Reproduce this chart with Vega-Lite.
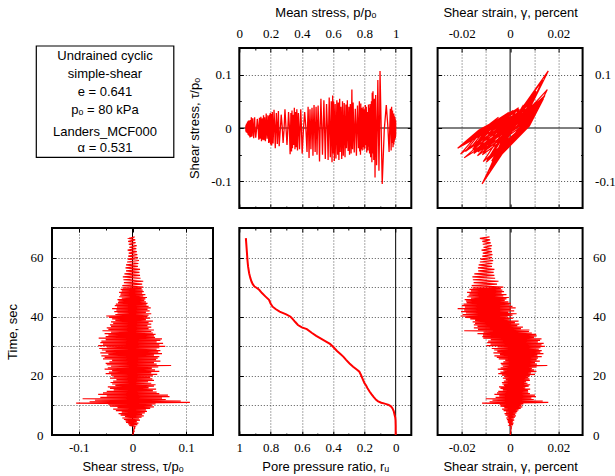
{
"$schema": "https://vega.github.io/schema/vega-lite/v6.json",
"padding": {"left": 5, "top": 5, "right": 0, "bottom": 0},
"config": {
 "view": {"stroke": "black", "strokeWidth": 2},
 "axis": {"domain": false, "labelFont": "Liberation Serif", "labelFontSize": 13, "labelColor": "black", "labelFlush": false, "labelOverlap": false, "titleFont": "Liberation Sans", "titleFontSize": 13, "titleFontWeight": "normal", "titleColor": "black", "tickColor": "black", "tickWidth": 1, "gridColor": "#555555", "gridDash": [1, 2], "gridWidth": 1}
},
"datasets": {
 "cyc": [
{"t":0,"s":0,"g":0,"p":1},{"t":0.25,"s":0.001,"g":0.0001,"p":1},{"t":0.5,"s":0.001,"g":0.0002,"p":1},{"t":0.75,"s":0.002,"g":0.0002,"p":1},{"t":1,"s":0.001,"g":0.0002,"p":1},{"t":1.25,"s":0.003,"g":0.0003,"p":1},{"t":1.5,"s":0.002,"g":0.0003,"p":1},{"t":1.75,"s":0.003,"g":0.0004,"p":1},{"t":2,"s":0.002,"g":0.0003,"p":1},{"t":2.25,"s":0.004,"g":0.0005,"p":1},{"t":2.5,"s":0.003,"g":0.0004,"p":1},{"t":2.75,"s":0.005,"g":0.0006,"p":1},{"t":3,"s":0.002,"g":0.0003,"p":1},
{"t":3.25,"s":-0.006,"g":-0.0003,"p":1},{"t":3.5,"s":0.009,"g":0.0012,"p":1},{"t":3.75,"s":-0.008,"g":-0.0005,"p":1},{"t":4,"s":0.011,"g":0.0014,"p":1},{"t":4.25,"s":-0.012,"g":-0.0009,"p":1},{"t":4.5,"s":0.008,"g":0.0011,"p":1},{"t":4.75,"s":-0.013,"g":-0.001,"p":1},{"t":5,"s":0.014,"g":0.0017,"p":1},
{"t":5.25,"s":-0.016,"g":-0.0013,"p":0.999},{"t":5.5,"s":0.012,"g":0.0015,"p":0.999},{"t":5.75,"s":-0.019,"g":-0.0016,"p":0.998},{"t":6,"s":0.017,"g":0.002,"p":0.997},{"t":6.25,"s":-0.014,"g":-0.0011,"p":0.996},{"t":6.5,"s":0.021,"g":0.0024,"p":0.995},{"t":6.75,"s":-0.022,"g":-0.0019,"p":0.994},{"t":7,"s":0.018,"g":0.0021,"p":0.992},{"t":7.25,"s":-0.026,"g":-0.0023,"p":0.991},{"t":7.5,"s":0.023,"g":0.0026,"p":0.99},{"t":7.75,"s":-0.02,"g":-0.0017,"p":0.989},{"t":8,"s":0.027,"g":0.003,"p":0.988},
{"t":8.25,"s":-0.031,"g":-0.0027,"p":0.988},{"t":8.5,"s":0.025,"g":0.0035,"p":0.986},{"t":8.75,"s":-0.036,"g":-0.0033,"p":0.983},{"t":9,"s":0.033,"g":0.0044,"p":0.98},{"t":9.25,"s":-0.028,"g":-0.0024,"p":0.977},{"t":9.5,"s":0.04,"g":0.0051,"p":0.974},{"t":9.75,"s":-0.042,"g":-0.004,"p":0.971},{"t":10,"s":0.036,"g":0.0047,"p":0.966},{"t":10.25,"s":-0.045,"g":-0.0043,"p":0.958},{"t":10.5,"s":0.043,"g":0.0055,"p":0.94},
{"t":10.75,"s":-0.105,"g":-0.0116,"p":0.914},{"t":11,"s":0.107,"g":0.0158,"p":0.9},{"t":11.25,"s":-0.08,"g":-0.0085,"p":0.893},{"t":11.5,"s":0.09,"g":0.0135,"p":0.886},{"t":11.75,"s":-0.07,"g":-0.0073,"p":0.878},
{"t":12,"s":0.062,"g":0.0098,"p":0.872},{"t":12.25,"s":-0.093,"g":-0.0101,"p":0.868},{"t":12.5,"s":0.055,"g":0.0088,"p":0.864},{"t":12.75,"s":-0.06,"g":-0.006,"p":0.86},{"t":13,"s":0.069,"g":0.0107,"p":0.855},{"t":13.25,"s":-0.048,"g":-0.0045,"p":0.853},{"t":13.5,"s":0.066,"g":0.0103,"p":0.85},{"t":13.75,"s":-0.064,"g":-0.0065,"p":0.848},{"t":14,"s":0.05,"g":0.0082,"p":0.845},{"t":14.25,"s":-0.055,"g":-0.0054,"p":0.84},{"t":14.5,"s":0.045,"g":0.0075,"p":0.836},
{"t":14.75,"s":-0.048,"g":-0.0049,"p":0.833},{"t":15,"s":0.038,"g":0.0074,"p":0.83},{"t":15.25,"s":-0.035,"g":-0.003,"p":0.828},{"t":15.5,"s":0.044,"g":0.0083,"p":0.826},{"t":15.75,"s":-0.042,"g":-0.004,"p":0.823},{"t":16,"s":0.03,"g":0.0063,"p":0.818},{"t":16.25,"s":-0.046,"g":-0.0046,"p":0.815},{"t":16.5,"s":0.04,"g":0.0077,"p":0.812},{"t":16.75,"s":-0.032,"g":-0.0026,"p":0.809},{"t":17,"s":0.043,"g":0.0083,"p":0.806},{"t":17.25,"s":-0.038,"g":-0.0032,"p":0.803},{"t":17.5,"s":0.035,"g":0.0072,"p":0.8},{"t":17.75,"s":-0.041,"g":-0.0034,"p":0.798},{"t":18,"s":0.029,"g":0.0066,"p":0.796},{"t":18.25,"s":-0.036,"g":-0.0026,"p":0.794},{"t":18.5,"s":0.04,"g":0.0082,"p":0.792},{"t":18.75,"s":-0.03,"g":-0.0018,"p":0.79},{"t":19,"s":0.037,"g":0.008,"p":0.788},{"t":19.25,"s":-0.042,"g":-0.003,"p":0.786},{"t":19.5,"s":0.033,"g":0.0075,"p":0.785},{"t":19.75,"s":-0.035,"g":-0.0022,"p":0.783},{"t":20,"s":0.038,"g":0.0082,"p":0.781},
{"t":20.25,"s":-0.04,"g":-0.0034,"p":0.779},{"t":20.5,"s":0.046,"g":0.0103,"p":0.777},{"t":20.75,"s":-0.05,"g":-0.0049,"p":0.775},{"t":21,"s":0.035,"g":0.0086,"p":0.772},{"t":21.25,"s":-0.044,"g":-0.004,"p":0.77},{"t":21.5,"s":0.05,"g":0.0109,"p":0.768},{"t":21.75,"s":-0.038,"g":-0.0028,"p":0.762},{"t":22,"s":0.042,"g":0.0099,"p":0.756},{"t":22.25,"s":-0.052,"g":-0.0051,"p":0.749},{"t":22.5,"s":0.036,"g":0.009,"p":0.742},{"t":22.75,"s":-0.046,"g":-0.0039,"p":0.735},{"t":23,"s":0.048,"g":0.011,"p":0.728},{"t":23.25,"s":-0.04,"g":-0.003,"p":0.724},{"t":23.5,"s":0.072,"g":0.0154,"p":0.72},{"t":23.75,"s":-0.048,"g":-0.0036,"p":0.715},{"t":24,"s":0.045,"g":0.0111,"p":0.71},{"t":24.25,"s":-0.05,"g":-0.0039,"p":0.705},{"t":24.5,"s":0.04,"g":0.0103,"p":0.701},{"t":24.75,"s":-0.043,"g":-0.0028,"p":0.696},{"t":25,"s":0.052,"g":0.0123,"p":0.691},{"t":25.25,"s":-0.038,"g":-0.002,"p":0.685},{"t":25.5,"s":0.044,"g":0.011,"p":0.682},{"t":25.75,"s":-0.055,"g":-0.0047,"p":0.676},{"t":26,"s":0.047,"g":0.0115,"p":0.671},
{"t":26.25,"s":-0.052,"g":-0.0055,"p":0.665},{"t":26.5,"s":0.05,"g":0.0131,"p":0.66},{"t":26.75,"s":-0.058,"g":-0.0065,"p":0.655},{"t":27,"s":0.04,"g":0.0113,"p":0.65},{"t":27.25,"s":-0.045,"g":-0.0042,"p":0.645},{"t":27.5,"s":0.055,"g":0.0138,"p":0.642},{"t":27.75,"s":-0.06,"g":-0.0069,"p":0.637},{"t":28,"s":0.048,"g":0.0125,"p":0.633},{"t":28.25,"s":-0.05,"g":-0.0053,"p":0.629},{"t":28.5,"s":0.052,"g":0.0131,"p":0.624},{"t":28.75,"s":-0.057,"g":-0.0066,"p":0.618},{"t":29,"s":0.045,"g":0.0119,"p":0.613},{"t":29.25,"s":-0.062,"g":-0.0076,"p":0.608},{"t":29.5,"s":0.05,"g":0.0126,"p":0.603},{"t":29.75,"s":-0.048,"g":-0.0052,"p":0.599},{"t":30,"s":0.061,"g":0.0144,"p":0.597},
{"t":30.25,"s":-0.064,"g":-0.0098,"p":0.593},{"t":30.5,"s":0.05,"g":0.013,"p":0.588},{"t":30.75,"s":-0.055,"g":-0.0081,"p":0.582},{"t":31,"s":0.057,"g":0.0139,"p":0.575},{"t":31.25,"s":-0.06,"g":-0.0095,"p":0.568},{"t":31.5,"s":0.045,"g":0.0115,"p":0.558},{"t":31.75,"s":-0.058,"g":-0.0091,"p":0.55},{"t":32,"s":0.052,"g":0.0124,"p":0.541},{"t":32.25,"s":-0.05,"g":-0.008,"p":0.532},{"t":32.5,"s":0.055,"g":0.013,"p":0.522},{"t":32.75,"s":-0.063,"g":-0.0111,"p":0.513},{"t":33,"s":0.042,"g":0.0099,"p":0.504},
{"t":33.25,"s":-0.05,"g":-0.0115,"p":0.497},{"t":33.5,"s":0.04,"g":0.011,"p":0.491},{"t":33.75,"s":-0.045,"g":-0.0112,"p":0.485},{"t":34,"s":0.043,"g":0.0108,"p":0.478},{"t":34.25,"s":-0.052,"g":-0.0135,"p":0.471},{"t":34.5,"s":0.038,"g":0.009,"p":0.465},{"t":34.75,"s":-0.04,"g":-0.011,"p":0.458},{"t":35,"s":0.035,"g":0.0078,"p":0.452},{"t":35.25,"s":-0.056,"g":-0.019,"p":0.446},{"t":35.5,"s":0.04,"g":0.008,"p":0.44},{"t":35.75,"s":-0.045,"g":-0.0133,"p":0.433},{"t":36,"s":0.03,"g":0.0045,"p":0.418},{"t":36.25,"s":-0.048,"g":-0.015,"p":0.402},{"t":36.5,"s":0.035,"g":0.0053,"p":0.393},{"t":36.75,"s":-0.04,"g":-0.0135,"p":0.385},{"t":37,"s":0.028,"g":0.003,"p":0.378},
{"t":37.25,"s":-0.042,"g":-0.015,"p":0.372},{"t":37.5,"s":0.035,"g":0.0038,"p":0.368},{"t":37.75,"s":-0.036,"g":-0.0145,"p":0.364},{"t":38,"s":0.03,"g":0.002,"p":0.36},{"t":38.25,"s":-0.04,"g":-0.0155,"p":0.356},{"t":38.5,"s":0.038,"g":0.0035,"p":0.352},{"t":38.75,"s":-0.032,"g":-0.0145,"p":0.348},{"t":39,"s":0.025,"g":-0.0003,"p":0.344},{"t":39.25,"s":-0.038,"g":-0.0165,"p":0.34},{"t":39.5,"s":0.033,"g":0.0013,"p":0.337},{"t":39.75,"s":-0.044,"g":-0.0185,"p":0.334},{"t":40,"s":0.028,"g":-0.001,"p":0.33},
{"t":40.25,"s":-0.049,"g":-0.0205,"p":0.325},{"t":40.5,"s":0.03,"g":0.001,"p":0.315},{"t":40.75,"s":-0.032,"g":-0.0197,"p":0.305},{"t":41,"s":0.035,"g":0.0027,"p":0.292},{"t":41.25,"s":-0.028,"g":-0.0183,"p":0.28},{"t":41.5,"s":0.025,"g":-0.0007,"p":0.268},{"t":41.75,"s":-0.034,"g":-0.0203,"p":0.255},{"t":42,"s":0.032,"g":0.0017,"p":0.25},{"t":42.25,"s":-0.03,"g":-0.019,"p":0.243},{"t":42.5,"s":0.028,"g":0.0003,"p":0.237},{"t":42.75,"s":-0.038,"g":-0.0217,"p":0.23},{"t":43,"s":0.034,"g":0.0023,"p":0.222},{"t":43.25,"s":-0.029,"g":-0.0187,"p":0.216},{"t":43.5,"s":0.03,"g":0.001,"p":0.211},{"t":43.75,"s":-0.033,"g":-0.02,"p":0.207},{"t":44,"s":0.026,"g":-0.0003,"p":0.204},{"t":44.25,"s":-0.031,"g":-0.0193,"p":0.2},{"t":44.5,"s":0.028,"g":0.0003,"p":0.198},{"t":44.75,"s":-0.027,"g":-0.018,"p":0.196},{"t":45,"s":0.025,"g":-0.0007,"p":0.194},
{"t":45.25,"s":-0.026,"g":-0.0182,"p":0.192},{"t":45.5,"s":0.022,"g":-0.0022,"p":0.19},{"t":45.75,"s":-0.028,"g":-0.0188,"p":0.188},{"t":46,"s":0.024,"g":-0.0015,"p":0.183},{"t":46.25,"s":-0.02,"g":-0.0162,"p":0.178},{"t":46.5,"s":0.027,"g":-0.0005,"p":0.172},{"t":46.75,"s":-0.025,"g":-0.0178,"p":0.167},{"t":47,"s":0.02,"g":-0.0028,"p":0.162},{"t":47.25,"s":-0.023,"g":-0.0172,"p":0.158},{"t":47.5,"s":0.024,"g":-0.0015,"p":0.155},{"t":47.75,"s":-0.022,"g":-0.0168,"p":0.15},{"t":48,"s":0.018,"g":-0.0035,"p":0.146},{"t":48.25,"s":-0.025,"g":-0.0178,"p":0.142},{"t":48.5,"s":0.021,"g":-0.0025,"p":0.138},{"t":48.75,"s":-0.02,"g":-0.0162,"p":0.133},{"t":49,"s":0.019,"g":-0.0032,"p":0.129},{"t":49.25,"s":-0.022,"g":-0.0168,"p":0.125},{"t":49.5,"s":0.017,"g":-0.0038,"p":0.115},{"t":49.75,"s":-0.018,"g":-0.0155,"p":0.105},{"t":50,"s":0.02,"g":-0.0028,"p":0.098},
{"t":50.5,"s":-0.019,"g":-0.0159,"p":0.092},{"t":51,"s":0.018,"g":-0.0054,"p":0.086},{"t":51.5,"s":-0.016,"g":-0.0151,"p":0.081},{"t":52,"s":0.02,"g":-0.0048,"p":0.077},{"t":52.5,"s":-0.017,"g":-0.0154,"p":0.074},{"t":53,"s":0.015,"g":-0.0062,"p":0.071},{"t":53.5,"s":-0.018,"g":-0.0156,"p":0.068},{"t":54,"s":0.014,"g":-0.0065,"p":0.065},{"t":54.5,"s":-0.015,"g":-0.0148,"p":0.063},{"t":55,"s":0.013,"g":-0.0068,"p":0.062},{"t":55.5,"s":-0.012,"g":-0.0132,"p":0.06},{"t":56,"s":0.014,"g":-0.0065,"p":0.059},{"t":56.5,"s":-0.013,"g":-0.0133,"p":0.058},{"t":57,"s":0.01,"g":-0.0075,"p":0.057},{"t":57.5,"s":-0.012,"g":-0.013,"p":0.056},{"t":58,"s":0.011,"g":-0.0073,"p":0.055},{"t":58.5,"s":-0.01,"g":-0.0125,"p":0.054},{"t":59,"s":0.012,"g":-0.007,"p":0.053},{"t":59.5,"s":-0.009,"g":-0.0123,"p":0.052},{"t":60,"s":0.01,"g":-0.0075,"p":0.051},{"t":60.5,"s":-0.008,"g":-0.0115,"p":0.05},{"t":61,"s":0.009,"g":-0.0073,"p":0.05},{"t":61.5,"s":-0.007,"g":-0.0113,"p":0.049},{"t":62,"s":0.008,"g":-0.0075,"p":0.048},{"t":62.5,"s":-0.009,"g":-0.0118,"p":0.048},{"t":63,"s":0.007,"g":-0.0078,"p":0.047},{"t":63.5,"s":-0.006,"g":-0.011,"p":0.046},{"t":64,"s":0.008,"g":-0.0075,"p":0.046},{"t":64.5,"s":-0.007,"g":-0.0113,"p":0.045},{"t":65,"s":0.006,"g":-0.008,"p":0.045},{"t":65.5,"s":-0.008,"g":-0.0115,"p":0.044},{"t":66,"s":0.005,"g":-0.0083,"p":0.043},{"t":66.5,"s":-0.006,"g":-0.0125,"p":0.042},{"t":67,"s":0.004,"g":-0.0085,"p":0.042},
{"t":8.375,"s":0.003,"g":0.0019,"p":0.987},{"t":8.625,"s":-0.003,"g":-0.0005,"p":0.985},{"t":8.875,"s":0.003,"g":0.0019,"p":0.982},{"t":9.125,"s":-0.003,"g":-0.0005,"p":0.979},{"t":9.375,"s":0.003,"g":0.0019,"p":0.976},{"t":9.625,"s":-0.003,"g":-0.0005,"p":0.973},{"t":9.875,"s":0.003,"g":0.0019,"p":0.969},{"t":10.125,"s":-0.003,"g":-0.0005,"p":0.962},{"t":10.375,"s":0.003,"g":0.0019,"p":0.95},{"t":10.625,"s":-0.004,"g":-0.0008,"p":0.927},
{"t":10.875,"s":0.004,"g":0.0045,"p":0.907},{"t":11.125,"s":-0.004,"g":-0.0015,"p":0.897},{"t":11.375,"s":0.004,"g":0.0045,"p":0.89},{"t":11.625,"s":-0.004,"g":-0.0015,"p":0.882},{"t":11.875,"s":0.004,"g":0.0045,"p":0.875},{"t":12.125,"s":-0.004,"g":-0.0015,"p":0.87},{"t":12.375,"s":0.004,"g":0.0045,"p":0.866},{"t":12.625,"s":-0.004,"g":-0.0015,"p":0.862},{"t":12.875,"s":0.004,"g":0.0045,"p":0.857},{"t":13.125,"s":-0.004,"g":-0.0015,"p":0.854},{"t":13.375,"s":0.004,"g":0.0045,"p":0.852},{"t":13.625,"s":-0.004,"g":-0.0015,"p":0.849},{"t":13.875,"s":0.004,"g":0.0045,"p":0.847},{"t":14.125,"s":-0.004,"g":-0.0015,"p":0.843},{"t":14.375,"s":0.004,"g":0.0045,"p":0.838},{"t":14.625,"s":-0.004,"g":-0.001,"p":0.835},
{"t":14.875,"s":0.004,"g":0.005,"p":0.832},{"t":15.125,"s":-0.004,"g":-0.001,"p":0.829},{"t":15.375,"s":0.004,"g":0.005,"p":0.827},{"t":15.625,"s":-0.004,"g":-0.001,"p":0.825},{"t":15.875,"s":0.004,"g":0.005,"p":0.82},{"t":16.125,"s":-0.004,"g":-0.001,"p":0.817},{"t":16.375,"s":0.004,"g":0.005,"p":0.814},{"t":16.625,"s":-0.004,"g":-0.001,"p":0.81},{"t":16.875,"s":0.004,"g":0.0052,"p":0.808},
{"t":17.125,"s":-0.004,"g":-0.0005,"p":0.805},{"t":17.375,"s":0.004,"g":0.0055,"p":0.802},{"t":17.625,"s":-0.004,"g":-0.0005,"p":0.799},{"t":17.875,"s":0.004,"g":0.0055,"p":0.797},{"t":18.125,"s":-0.004,"g":-0.0005,"p":0.795},{"t":18.375,"s":0.004,"g":0.0055,"p":0.793},{"t":18.625,"s":-0.004,"g":-0.0005,"p":0.791},{"t":18.875,"s":0.004,"g":0.0055,"p":0.789},{"t":19.125,"s":-0.004,"g":-0.0005,"p":0.787},{"t":19.375,"s":0.004,"g":0.0058,"p":0.786},{"t":19.625,"s":-0.004,"g":-0.0002,"p":0.784},{"t":19.875,"s":0.004,"g":0.0058,"p":0.782},
{"t":20.125,"s":-0.004,"g":-0.001,"p":0.78},{"t":20.375,"s":0.004,"g":0.007,"p":0.778},{"t":20.625,"s":-0.004,"g":-0.001,"p":0.776},{"t":20.875,"s":0.004,"g":0.007,"p":0.774},{"t":21.125,"s":-0.004,"g":-0.001,"p":0.771},{"t":21.375,"s":0.004,"g":0.0072,"p":0.769},{"t":21.625,"s":-0.004,"g":-0.0008,"p":0.765},{"t":21.875,"s":0.004,"g":0.0072,"p":0.759},{"t":22.125,"s":-0.004,"g":-0.0008,"p":0.752},{"t":22.375,"s":0.004,"g":0.0074,"p":0.745},{"t":22.625,"s":-0.004,"g":-0.0006,"p":0.738},{"t":22.875,"s":0.004,"g":0.0074,"p":0.731},{"t":23.125,"s":-0.004,"g":-0.0006,"p":0.726},{"t":23.375,"s":0.004,"g":0.008,"p":0.722},
{"t":23.625,"s":-0.004,"g":0,"p":0.717},{"t":23.875,"s":0.004,"g":0.008,"p":0.712},{"t":24.125,"s":-0.004,"g":0,"p":0.707},{"t":24.375,"s":0.004,"g":0.008,"p":0.703},{"t":24.625,"s":-0.004,"g":0,"p":0.698},{"t":24.875,"s":0.004,"g":0.008,"p":0.693},{"t":25.125,"s":-0.004,"g":0,"p":0.688},{"t":25.375,"s":0.004,"g":0.008,"p":0.683},{"t":25.625,"s":-0.004,"g":0,"p":0.679},{"t":25.875,"s":0.004,"g":0.008,"p":0.673},{"t":26.125,"s":-0.004,"g":0,"p":0.668},{"t":26.375,"s":0.004,"g":0.008,"p":0.662},{"t":26.625,"s":-0.004,"g":0,"p":0.657},{"t":26.875,"s":0.004,"g":0.008,"p":0.652},{"t":27.125,"s":-0.004,"g":0,"p":0.647},{"t":27.375,"s":0.004,"g":0.008,"p":0.643},
{"t":27.625,"s":-0.004,"g":-0.0002,"p":0.639},{"t":27.875,"s":0.004,"g":0.0078,"p":0.635},{"t":28.125,"s":-0.004,"g":-0.0002,"p":0.631},{"t":28.375,"s":0.004,"g":0.0078,"p":0.626},{"t":28.625,"s":-0.004,"g":-0.0003,"p":0.621},{"t":28.875,"s":0.004,"g":0.0075,"p":0.615},{"t":29.125,"s":-0.004,"g":-0.0005,"p":0.61},{"t":29.375,"s":0.004,"g":0.0075,"p":0.605},{"t":29.625,"s":-0.004,"g":-0.0005,"p":0.601},{"t":29.875,"s":0.004,"g":0.0073,"p":0.598},
{"t":30.125,"s":-0.004,"g":-0.001,"p":0.595},{"t":30.375,"s":0.004,"g":0.0068,"p":0.59},{"t":30.625,"s":-0.004,"g":-0.0012,"p":0.585},{"t":30.875,"s":0.004,"g":0.0065,"p":0.578},{"t":31.125,"s":-0.004,"g":-0.0015,"p":0.571},{"t":31.375,"s":0.004,"g":0.006,"p":0.563},{"t":31.625,"s":-0.004,"g":-0.002,"p":0.554},{"t":31.875,"s":0.004,"g":0.006,"p":0.545},{"t":32.125,"s":-0.004,"g":-0.002,"p":0.536},{"t":32.375,"s":0.004,"g":0.0058,"p":0.527},{"t":32.625,"s":-0.004,"g":-0.0025,"p":0.517},{"t":32.875,"s":0.004,"g":0.0055,"p":0.508},
{"t":33.125,"s":-0.004,"g":-0.003,"p":0.5},{"t":33.375,"s":0.004,"g":0.005,"p":0.494},{"t":33.625,"s":-0.004,"g":-0.0035,"p":0.488},{"t":33.875,"s":0.004,"g":0.004,"p":0.481},{"t":34.125,"s":-0.004,"g":-0.004,"p":0.474},{"t":34.375,"s":0.004,"g":0.0035,"p":0.468},{"t":34.625,"s":-0.004,"g":-0.005,"p":0.461},{"t":34.875,"s":0.004,"g":0.003,"p":0.455},{"t":35.125,"s":-0.004,"g":-0.006,"p":0.449},{"t":35.375,"s":0.004,"g":0.002,"p":0.443},{"t":35.625,"s":-0.004,"g":-0.006,"p":0.436},{"t":35.875,"s":0.004,"g":0.001,"p":0.425},{"t":36.125,"s":-0.004,"g":-0.007,"p":0.41},{"t":36.375,"s":0.004,"g":0.0005,"p":0.397},{"t":36.625,"s":-0.004,"g":-0.0075,"p":0.389},{"t":36.875,"s":0.004,"g":0,"p":0.381},
{"t":37.125,"s":-0.004,"g":-0.0085,"p":0.375},{"t":37.375,"s":0.004,"g":-0.0005,"p":0.37},{"t":37.625,"s":-0.004,"g":-0.009,"p":0.366},{"t":37.875,"s":0.004,"g":-0.0015,"p":0.362},{"t":38.125,"s":-0.004,"g":-0.0095,"p":0.358},{"t":38.375,"s":0.004,"g":-0.002,"p":0.354},{"t":38.625,"s":-0.004,"g":-0.01,"p":0.35},{"t":38.875,"s":0.004,"g":-0.0025,"p":0.346},{"t":39.125,"s":-0.004,"g":-0.0105,"p":0.342},{"t":39.375,"s":0.004,"g":-0.003,"p":0.338},{"t":39.625,"s":-0.004,"g":-0.0115,"p":0.335},{"t":39.875,"s":0.004,"g":-0.0035,"p":0.332},{"t":40.125,"s":-0.004,"g":-0.012,"p":0.328},
{"t":40.375,"s":0.004,"g":-0.005,"p":0.32},{"t":40.625,"s":-0.004,"g":-0.013,"p":0.31},{"t":40.875,"s":0.004,"g":-0.005,"p":0.298},{"t":41.125,"s":-0.004,"g":-0.013,"p":0.286},{"t":41.375,"s":0.004,"g":-0.005,"p":0.274},{"t":41.625,"s":-0.004,"g":-0.013,"p":0.262},{"t":41.875,"s":0.004,"g":-0.005,"p":0.252},{"t":42.125,"s":-0.004,"g":-0.013,"p":0.246},{"t":42.375,"s":0.004,"g":-0.005,"p":0.24},{"t":42.625,"s":-0.004,"g":-0.013,"p":0.233},{"t":42.875,"s":0.004,"g":-0.005,"p":0.226},{"t":43.125,"s":-0.004,"g":-0.013,"p":0.219},{"t":43.375,"s":0.004,"g":-0.005,"p":0.213},{"t":43.625,"s":-0.004,"g":-0.013,"p":0.209},{"t":43.875,"s":0.004,"g":-0.005,"p":0.205},{"t":44.125,"s":-0.004,"g":-0.013,"p":0.202},{"t":44.375,"s":0.004,"g":-0.005,"p":0.199},{"t":44.625,"s":-0.004,"g":-0.013,"p":0.197},{"t":44.875,"s":0.004,"g":-0.005,"p":0.195},{"t":45.125,"s":-0.004,"g":-0.0125,"p":0.193},
{"t":45.375,"s":0.003,"g":-0.0065,"p":0.191},{"t":45.625,"s":-0.003,"g":-0.0125,"p":0.189},{"t":45.875,"s":0.003,"g":-0.0065,"p":0.186},{"t":46.125,"s":-0.003,"g":-0.0125,"p":0.18},{"t":46.375,"s":0.003,"g":-0.0065,"p":0.175},{"t":46.625,"s":-0.003,"g":-0.0125,"p":0.17},{"t":46.875,"s":0.003,"g":-0.0065,"p":0.165},{"t":47.125,"s":-0.003,"g":-0.0125,"p":0.16},{"t":47.375,"s":0.003,"g":-0.0065,"p":0.157},{"t":47.625,"s":-0.003,"g":-0.0125,"p":0.152},{"t":47.875,"s":0.003,"g":-0.0065,"p":0.148},{"t":48.125,"s":-0.003,"g":-0.0125,"p":0.144},{"t":48.375,"s":0.003,"g":-0.0065,"p":0.14},{"t":48.625,"s":-0.003,"g":-0.0125,"p":0.135},{"t":48.875,"s":0.003,"g":-0.0065,"p":0.131},{"t":49.125,"s":-0.003,"g":-0.0125,"p":0.127},{"t":49.375,"s":0.003,"g":-0.0065,"p":0.12},{"t":49.625,"s":-0.003,"g":-0.0125,"p":0.11},{"t":49.875,"s":0.003,"g":-0.0065,"p":0.1}
 ],
 "ru": [
{"t":0,"ru":0},{"t":3,"ru":0},{"t":5,"ru":0.001},{"t":6,"ru":0.003},{"t":7,"ru":0.008},{"t":8,"ru":0.012},{"t":9,"ru":0.02},{"t":9.7,"ru":0.03},{"t":10.2,"ru":0.045},{"t":10.6,"ru":0.07},{"t":10.9,"ru":0.092},{"t":11.4,"ru":0.112},{"t":11.9,"ru":0.125},{"t":12.8,"ru":0.14},{"t":13.8,"ru":0.155},{"t":14.7,"ru":0.167},{"t":15.8,"ru":0.18},{"t":16.8,"ru":0.19},{"t":17.6,"ru":0.2},{"t":18.8,"ru":0.21},{"t":20.2,"ru":0.221},{"t":21.4,"ru":0.232},{"t":22,"ru":0.245},{"t":23.1,"ru":0.272},{"t":24.2,"ru":0.295},{"t":25.4,"ru":0.317},{"t":26.5,"ru":0.335},{"t":27.5,"ru":0.355},{"t":28.4,"ru":0.375},{"t":29.9,"ru":0.402},{"t":30.8,"ru":0.42},{"t":31.6,"ru":0.445},{"t":32.5,"ru":0.475},{"t":33.5,"ru":0.508},{"t":34.5,"ru":0.535},{"t":35.8,"ru":0.568},{"t":36.4,"ru":0.6},{"t":37.2,"ru":0.625},{"t":38.2,"ru":0.642},{"t":39.2,"ru":0.658},{"t":40,"ru":0.672},{"t":40.8,"ru":0.7},{"t":41.7,"ru":0.742},{"t":42.6,"ru":0.768},{"t":43.4,"ru":0.787},{"t":44.5,"ru":0.8},{"t":45.7,"ru":0.81},{"t":46.8,"ru":0.832},{"t":48,"ru":0.855},{"t":49.1,"ru":0.873},{"t":49.8,"ru":0.89},{"t":50.2,"ru":0.903},{"t":51,"ru":0.914},{"t":51.9,"ru":0.922},{"t":53.2,"ru":0.93},{"t":54.7,"ru":0.937},{"t":57,"ru":0.944},{"t":59.2,"ru":0.948},{"t":61.5,"ru":0.951},{"t":63.7,"ru":0.954},{"t":66.6,"ru":0.958}
 ]
},
"columns": 3,
"bounds": "flush",
"align": "each",
"spacing": {"row": 20, "column": 26.3},
"concat": [
  {"width": 161, "height": 160, "view": {"stroke": null}, "data": {"values": [{}]},
   "layer": [
    {"mark": {"type": "rect", "fill": "white", "stroke": "black", "strokeWidth": 1.2},
     "encoding": {"x": {"datum": -0.0975, "type": "quantitative", "scale": {"domain": [0, 1], "nice": false, "zero": false}, "axis": null}, "x2": {"datum": 0.7565},
      "y": {"datum": 1.0125, "type": "quantitative", "scale": {"domain": [0, 1], "nice": false, "zero": false}, "axis": null}, "y2": {"datum": 0.317}}},
    {"mark": {"type": "text", "text": ["Undrained cyclic", "simple-shear", "e = 0.641", "pₒ = 80 kPa"], "font": "Liberation Sans", "fontSize": 13, "lineHeight": 18, "align": "center", "baseline": "middle", "color": "black"},
     "encoding": {"x": {"datum": 0.329, "type": "quantitative"}, "y": {"datum": 0.953, "type": "quantitative"}}},
    {"mark": {"type": "text", "text": ["Landers_MCF000", "α = 0.531"], "font": "Liberation Sans", "fontSize": 13, "lineHeight": 15.6, "align": "center", "baseline": "middle", "color": "black"},
     "encoding": {"x": {"datum": 0.329, "type": "quantitative"}, "y": {"datum": 0.474, "type": "quantitative"}}}
   ]},
  {"width": 172, "height": 160, "data": {"name": "cyc"},
   "resolve": {"axis": {"x": "independent", "y": "independent"}},
   "layer": [
    {"data": {"values": [{}]}, "mark": {"type": "rule", "color": "black", "strokeWidth": 1}, "encoding": {"y": {"datum": 0, "type": "quantitative", "axis": null}}},
    {"mark": {"type": "line", "color": "#ff0000", "strokeWidth": 1.3, "clip": true},
     "encoding": {
      "x": {"field": "p", "type": "quantitative", "scale": {"domain": [0, 1.1], "nice": false, "zero": false},
       "axis": {"orient": "top", "title": "Mean stress, p/pₒ", "values": [0,0.1,0.2,0.3,0.4,0.5,0.6,0.7,0.8,0.9,1], "grid": true,
        "gridOpacity": {"condition": {"test": "round(datum.value*10)%2==0 && datum.value>0.05", "value": 1}, "value": 0},
        "tickSize": {"condition": {"test": "round(datum.value*10)%2==0", "value": -4}, "value": -2},
        "labelExpr": "round(datum.value*10)%2==0 ? format(datum.value,'~g') : ''", "labelPadding": 12, "titlePadding": 6}},
      "y": {"field": "s", "type": "quantitative", "scale": {"domain": [-0.15, 0.15], "nice": false, "zero": false},
       "axis": {"orient": "left", "title": "Shear stress, τ/pₒ", "values": [-0.1,-0.05,0,0.05,0.1], "grid": true,
        "gridOpacity": {"condition": {"test": "abs(datum.value)>0.09", "value": 1}, "value": 0},
        "tickSize": {"condition": {"test": "abs(datum.value)<0.001 || abs(datum.value)>0.09", "value": -4}, "value": -2},
        "labelExpr": "abs(datum.value)<0.001 || abs(datum.value)>0.09 ? (datum.value<0 ? '-' + format(-datum.value,'~g') : format(datum.value,'~g')) : ''", "labelPadding": 12, "titlePadding": 9}},
      "order": {"field": "t", "type": "quantitative"}}},
    {"mark": {"type": "point", "opacity": 0},
     "encoding": {
      "x": {"field": "p", "type": "quantitative", "axis": {"orient": "bottom", "title": null, "labels": false, "grid": false, "values": [0,0.1,0.2,0.3,0.4,0.5,0.6,0.7,0.8,0.9,1],
        "tickSize": {"condition": {"test": "round(datum.value*10)%2==0", "value": -4}, "value": -2}}},
      "y": {"field": "s", "type": "quantitative", "axis": {"orient": "right", "title": null, "labels": false, "grid": false, "values": [-0.1,-0.05,0,0.05,0.1],
        "tickSize": {"condition": {"test": "abs(datum.value)<0.001 || abs(datum.value)>0.09", "value": -4}, "value": -2}}}}}
   ]},
  {"width": 145, "height": 160, "data": {"name": "cyc"},
   "resolve": {"axis": {"x": "independent", "y": "independent"}},
   "layer": [
    {"data": {"values": [{}]}, "mark": {"type": "rule", "color": "black", "strokeWidth": 1}, "encoding": {"y": {"datum": 0, "type": "quantitative", "axis": null}}},
    {"data": {"values": [{}]}, "mark": {"type": "rule", "color": "black", "strokeWidth": 1}, "encoding": {"x": {"datum": 0, "type": "quantitative", "axis": null}}},
    {"mark": {"type": "line", "color": "#ff0000", "strokeWidth": 1.2, "clip": true},
     "encoding": {
      "x": {"field": "g", "type": "quantitative", "scale": {"domain": [-0.03, 0.03], "nice": false, "zero": false},
       "axis": {"orient": "top", "title": "Shear strain, γ, percent", "values": [-0.02,-0.01,0,0.01,0.02], "grid": true,
        "gridOpacity": {"condition": {"test": "abs(datum.value)>0.001", "value": 1}, "value": 0},
        "tickSize": {"condition": {"test": "abs(datum.value)<0.001 || abs(datum.value)>0.015", "value": -4}, "value": -2},
        "labelExpr": "abs(datum.value)<0.001 || abs(datum.value)>0.015 ? (datum.value<0 ? '-' + format(-datum.value,'~g') : format(datum.value,'~g')) : ''", "labelPadding": 12, "titlePadding": 6}},
      "y": {"field": "s", "type": "quantitative", "scale": {"domain": [-0.15, 0.15], "nice": false, "zero": false},
       "axis": {"orient": "right", "title": null, "values": [-0.1,-0.05,0,0.05,0.1], "grid": true,
        "gridOpacity": {"condition": {"test": "abs(datum.value)>0.09", "value": 1}, "value": 0},
        "tickSize": {"condition": {"test": "abs(datum.value)<0.001 || abs(datum.value)>0.09", "value": -4}, "value": -2},
        "labelExpr": "abs(datum.value)<0.001 || abs(datum.value)>0.09 ? (datum.value<0 ? '-' + format(-datum.value,'~g') : format(datum.value,'~g')) : ''", "labelPadding": 16}},
      "order": {"field": "t", "type": "quantitative"}}},
    {"mark": {"type": "point", "opacity": 0},
     "encoding": {
      "x": {"field": "g", "type": "quantitative", "axis": {"orient": "bottom", "title": null, "labels": false, "grid": false, "values": [-0.02,-0.01,0,0.01,0.02],
        "tickSize": {"condition": {"test": "abs(datum.value)<0.001 || abs(datum.value)>0.015", "value": -4}, "value": -2}}},
      "y": {"field": "s", "type": "quantitative", "axis": {"orient": "left", "title": null, "labels": false, "grid": false, "values": [-0.1,-0.05,0,0.05,0.1],
        "tickSize": {"condition": {"test": "abs(datum.value)<0.001 || abs(datum.value)>0.09", "value": -4}, "value": -2}}}}}
   ]},
  {"width": 161, "height": 207, "data": {"name": "cyc"},
   "resolve": {"axis": {"x": "independent", "y": "independent"}},
   "layer": [
    {"data": {"values": [{}]}, "mark": {"type": "rule", "color": "black", "strokeWidth": 1}, "encoding": {"x": {"datum": 0, "type": "quantitative", "axis": null}}},
    {"mark": {"type": "line", "color": "#ff0000", "strokeWidth": 1.2, "clip": true},
     "encoding": {
      "x": {"field": "s", "type": "quantitative", "scale": {"domain": [-0.15, 0.15], "nice": false, "zero": false},
       "axis": {"orient": "bottom", "title": "Shear stress, τ/pₒ", "values": [-0.1,-0.05,0,0.05,0.1], "grid": true,
        "gridOpacity": {"condition": {"test": "abs(datum.value)>0.09", "value": 1}, "value": 0},
        "tickSize": {"condition": {"test": "abs(datum.value)<0.001 || abs(datum.value)>0.09", "value": -4}, "value": -2},
        "labelExpr": "abs(datum.value)<0.001 || abs(datum.value)>0.09 ? (datum.value<0 ? '-' + format(-datum.value,'~g') : format(datum.value,'~g')) : ''", "labelPadding": 10, "titlePadding": 4}},
      "y": {"field": "t", "type": "quantitative", "scale": {"domain": [0, 70], "nice": false, "zero": false},
       "axis": {"orient": "left", "title": "Time, sec", "values": [0,10,20,30,40,50,60], "grid": true,
        "gridOpacity": {"condition": {"test": "datum.value>0", "value": 1}, "value": 0},
        "tickSize": {"condition": {"test": "datum.value%20==0", "value": -4}, "value": -2},
        "labelExpr": "datum.value%20==0 ? format(datum.value,'~g') : ''", "labelPadding": 13, "titlePadding": 11}},
      "order": {"field": "t", "type": "quantitative"}}},
    {"mark": {"type": "point", "opacity": 0},
     "encoding": {
      "x": {"field": "s", "type": "quantitative", "axis": {"orient": "top", "title": null, "labels": false, "grid": false, "values": [-0.1,-0.05,0,0.05,0.1],
        "tickSize": {"condition": {"test": "abs(datum.value)<0.001 || abs(datum.value)>0.09", "value": -4}, "value": -2}}},
      "y": {"field": "t", "type": "quantitative", "axis": {"orient": "right", "title": null, "labels": false, "grid": false, "values": [0,10,20,30,40,50,60],
        "tickSize": {"condition": {"test": "datum.value%20==0", "value": -4}, "value": -2}}}}}
   ]},
  {"width": 172, "height": 207, "data": {"name": "ru"},
   "resolve": {"axis": {"x": "independent", "y": "independent"}},
   "layer": [
    {"data": {"values": [{}]}, "mark": {"type": "rule", "color": "black", "strokeWidth": 1}, "encoding": {"x": {"datum": 0, "type": "quantitative", "axis": null}}},
    {"mark": {"type": "line", "color": "#ff0000", "strokeWidth": 2, "clip": true},
     "encoding": {
      "x": {"field": "ru", "type": "quantitative", "scale": {"domain": [-0.1, 1], "reverse": true, "nice": false, "zero": false},
       "axis": {"orient": "bottom", "title": "Pore pressure ratio, rᵤ", "values": [0,0.1,0.2,0.3,0.4,0.5,0.6,0.7,0.8,0.9,1], "grid": true,
        "gridOpacity": {"condition": {"test": "round(datum.value*10)%2==0 && datum.value>0.05 && datum.value<0.95", "value": 1}, "value": 0},
        "tickSize": {"condition": {"test": "round(datum.value*10)%2==0", "value": -4}, "value": -2},
        "labelExpr": "round(datum.value*10)%2==0 ? format(datum.value,'~g') : ''", "labelPadding": 10, "titlePadding": 4}},
      "y": {"field": "t", "type": "quantitative", "scale": {"domain": [0, 70], "nice": false, "zero": false},
       "axis": {"orient": "left", "title": null, "labels": false, "values": [0,10,20,30,40,50,60], "grid": true,
        "gridOpacity": {"condition": {"test": "datum.value>0", "value": 1}, "value": 0},
        "tickSize": {"condition": {"test": "datum.value%20==0", "value": -4}, "value": -2}}},
      "order": {"field": "t", "type": "quantitative"}}},
    {"mark": {"type": "point", "opacity": 0},
     "encoding": {
      "x": {"field": "ru", "type": "quantitative", "axis": {"orient": "top", "title": null, "labels": false, "grid": false, "values": [0,0.1,0.2,0.3,0.4,0.5,0.6,0.7,0.8,0.9,1],
        "tickSize": {"condition": {"test": "round(datum.value*10)%2==0", "value": -4}, "value": -2}}},
      "y": {"field": "t", "type": "quantitative", "axis": {"orient": "right", "title": null, "labels": false, "grid": false, "values": [0,10,20,30,40,50,60],
        "tickSize": {"condition": {"test": "datum.value%20==0", "value": -4}, "value": -2}}}}}
   ]},
  {"width": 145, "height": 207, "data": {"name": "cyc"},
   "resolve": {"axis": {"x": "independent", "y": "independent"}},
   "layer": [
    {"data": {"values": [{}]}, "mark": {"type": "rule", "color": "black", "strokeWidth": 1}, "encoding": {"x": {"datum": 0, "type": "quantitative", "axis": null}}},
    {"mark": {"type": "line", "color": "#ff0000", "strokeWidth": 1.2, "clip": true},
     "encoding": {
      "x": {"field": "g", "type": "quantitative", "scale": {"domain": [-0.03, 0.03], "nice": false, "zero": false},
       "axis": {"orient": "bottom", "title": "Shear strain, γ, percent", "values": [-0.02,-0.01,0,0.01,0.02], "grid": true,
        "gridOpacity": {"condition": {"test": "abs(datum.value)>0.001", "value": 1}, "value": 0},
        "tickSize": {"condition": {"test": "abs(datum.value)<0.001 || abs(datum.value)>0.015", "value": -4}, "value": -2},
        "labelExpr": "abs(datum.value)<0.001 || abs(datum.value)>0.015 ? (datum.value<0 ? '-' + format(-datum.value,'~g') : format(datum.value,'~g')) : ''", "labelPadding": 10, "titlePadding": 4}},
      "y": {"field": "t", "type": "quantitative", "scale": {"domain": [0, 70], "nice": false, "zero": false},
       "axis": {"orient": "right", "title": null, "values": [0,10,20,30,40,50,60], "grid": true,
        "gridOpacity": {"condition": {"test": "datum.value>0", "value": 1}, "value": 0},
        "tickSize": {"condition": {"test": "datum.value%20==0", "value": -4}, "value": -2},
        "labelExpr": "datum.value%20==0 ? format(datum.value,'~g') : ''", "labelPadding": 14}},
      "order": {"field": "t", "type": "quantitative"}}},
    {"mark": {"type": "point", "opacity": 0},
     "encoding": {
      "x": {"field": "g", "type": "quantitative", "axis": {"orient": "top", "title": null, "labels": false, "grid": false, "values": [-0.02,-0.01,0,0.01,0.02],
        "tickSize": {"condition": {"test": "abs(datum.value)<0.001 || abs(datum.value)>0.015", "value": -4}, "value": -2}}},
      "y": {"field": "t", "type": "quantitative", "axis": {"orient": "left", "title": null, "labels": false, "grid": false, "values": [0,10,20,30,40,50,60],
        "tickSize": {"condition": {"test": "datum.value%20==0", "value": -4}, "value": -2}}}}}
   ]}
]
}
